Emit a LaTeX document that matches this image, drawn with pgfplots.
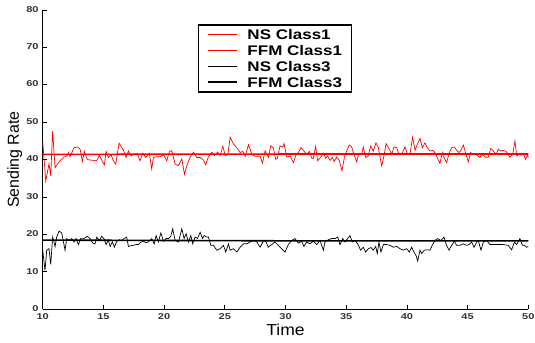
\documentclass[border=0pt]{standalone}
\usepackage{pgfplots}
\pgfplotsset{compat=1.18}
\usepackage{pgfplotstable}
\usepackage{graphicx}
\usepackage{fontspec}
\setmainfont{Liberation Sans}

\pgfplotstableread{
t v
10.00 45.0
10.25 34.3
10.52 38.9
10.66 35.7
10.82 47.6
11.02 37.9
11.43 39.7
11.70 40.6
11.98 41.0
12.12 41.9
12.25 40.8
12.58 43.2
12.86 43.4
13.08 42.8
13.27 39.5
13.43 42.2
13.68 40.0
13.93 39.9
14.18 39.8
14.45 39.7
14.67 41.2
14.92 39.5
15.08 38.6
15.22 42.2
15.41 40.6
15.63 41.3
15.82 39.7
16.02 38.8
16.29 44.4
16.65 42.5
16.87 40.6
17.06 42.3
17.28 41.0
17.47 41.5
17.80 41.5
18.02 39.7
18.24 41.7
18.49 40.6
18.79 41.7
18.98 37.5
19.12 40.6
19.40 40.8
19.67 40.8
19.95 41.3
20.22 39.7
20.44 42.2
20.63 42.4
20.91 38.8
21.18 38.4
21.46 40.2
21.68 36.1
21.87 38.4
22.14 40.6
22.42 42.0
22.69 40.6
22.97 40.6
23.24 39.9
23.43 38.6
23.65 40.8
23.93 42.0
24.15 41.1
24.40 42.0
24.62 41.1
24.84 43.6
25.03 41.1
25.25 41.3
25.44 46.0
25.71 44.2
25.99 43.2
26.26 41.9
26.48 42.2
26.68 40.9
26.95 44.0
27.23 41.4
27.50 40.9
27.91 40.9
28.10 39.1
28.32 42.4
28.60 40.6
28.78 43.7
29.00 43.2
29.19 40.1
29.33 40.3
29.55 43.7
29.77 43.4
29.88 44.3
30.10 40.7
30.37 41.0
30.65 39.2
30.87 41.4
31.06 41.9
31.28 43.2
31.52 42.3
31.74 41.4
31.96 42.2
32.16 40.4
32.29 40.3
32.48 43.5
32.65 39.7
32.90 40.6
33.12 41.7
33.31 40.4
33.47 41.0
33.67 39.8
33.86 40.6
34.02 39.5
34.21 40.7
34.43 39.8
34.65 37.0
34.85 40.6
35.04 42.3
35.26 43.9
35.45 43.4
35.64 41.4
35.86 39.4
36.05 41.7
36.27 41.4
36.41 43.4
36.60 40.6
36.82 41.0
37.02 43.7
37.23 42.3
37.45 44.5
37.65 43.2
37.92 38.3
38.11 41.0
38.28 44.3
38.55 42.8
38.74 41.4
38.94 43.4
39.16 43.2
39.35 41.4
39.57 41.4
39.84 43.4
40.05 41.4
40.25 41.4
40.47 46.0
40.67 42.5
40.86 44.1
41.08 45.7
41.27 43.2
41.49 44.5
41.68 43.2
41.90 42.3
42.12 42.5
42.31 41.9
42.52 40.4
42.72 39.0
42.92 41.9
43.08 40.4
43.27 39.2
43.49 41.9
43.69 43.2
43.91 43.4
44.10 42.5
44.29 41.9
44.45 42.5
44.65 43.9
44.87 41.4
45.06 39.4
45.25 41.9
45.47 41.4
45.66 41.6
45.83 41.0
46.02 40.6
46.16 41.4
46.35 41.0
46.51 40.6
46.71 40.7
46.90 43.0
47.12 42.3
47.34 41.4
47.53 42.8
47.75 42.3
47.94 42.5
48.16 42.2
48.35 41.4
48.49 40.6
48.71 41.4
48.90 45.0
49.04 41.0
49.23 41.4
49.40 41.2
49.59 41.6
49.78 40.1
49.95 41.4
50.00 40.5
}\nsone

\pgfplotstableread{
t v
10.00 15.8
10.19 10.4
10.33 15.8
10.52 16.2
10.66 12.0
10.82 19.3
11.02 16.8
11.15 19.3
11.35 20.9
11.57 20.4
11.84 15.8
11.98 18.9
12.17 18.4
12.39 18.9
12.58 18.0
12.75 18.9
12.94 17.3
13.13 18.9
13.31 18.8
13.49 19.1
13.68 19.5
13.90 18.9
14.12 17.7
14.31 17.5
14.45 19.3
14.67 18.4
14.86 19.5
15.05 18.9
15.22 17.3
15.41 18.5
15.55 16.8
15.74 18.0
15.91 16.6
16.10 18.2
16.32 18.6
16.51 18.4
16.70 18.9
16.92 19.3
17.06 16.8
17.27 17.0
17.47 17.1
17.68 17.3
17.88 17.3
18.09 18.0
18.30 18.2
18.50 17.8
18.71 18.0
18.98 18.9
19.18 17.5
19.34 19.7
19.53 18.0
19.73 20.4
19.95 18.2
20.16 18.9
20.36 18.9
20.55 19.5
20.71 21.5
20.91 18.4
21.18 18.0
21.46 21.5
21.65 18.9
21.81 20.2
22.01 18.0
22.20 19.7
22.36 17.5
22.55 19.3
22.75 18.9
22.97 20.6
23.16 18.9
23.30 19.7
23.52 19.3
23.65 19.3
23.85 17.1
24.07 17.1
24.34 15.8
24.62 16.2
24.89 17.1
25.08 15.3
25.30 17.5
25.44 15.8
25.71 16.2
25.99 15.3
26.26 16.6
26.54 17.5
26.81 17.5
27.09 18.0
27.36 18.4
27.64 18.0
27.91 16.6
28.19 18.4
28.40 18.0
28.58 16.6
28.86 17.3
29.13 18.0
29.41 17.1
29.68 16.2
29.96 15.3
30.23 17.3
30.51 18.4
30.78 18.9
31.06 17.7
31.33 18.2
31.52 16.8
31.74 18.0
32.02 17.5
32.29 18.2
32.57 17.3
32.84 18.4
33.12 15.8
33.25 18.0
33.53 18.6
33.80 18.9
34.08 18.9
34.30 19.3
34.49 17.3
34.71 18.9
34.90 18.0
35.12 18.9
35.31 19.7
35.50 18.0
35.72 18.4
35.94 17.5
36.19 15.8
36.41 16.6
36.60 15.3
36.82 16.2
37.04 16.5
37.23 15.8
37.43 16.8
37.56 14.9
37.70 18.0
37.86 15.3
38.06 17.3
38.33 17.3
38.61 17.1
38.88 16.6
39.16 16.8
39.43 16.2
39.70 15.8
39.98 16.2
40.20 15.3
40.39 16.6
40.58 15.3
40.75 14.4
40.89 12.9
41.08 15.8
41.22 14.9
41.43 15.8
41.71 15.9
41.90 15.8
42.09 17.1
42.31 18.4
42.53 18.9
42.81 18.4
43.05 19.3
43.27 17.1
43.47 15.8
43.69 17.1
43.91 18.2
44.10 17.1
44.37 17.1
44.65 17.5
44.92 17.1
45.11 17.3
45.33 18.0
45.53 16.6
45.75 18.0
45.88 18.4
46.10 15.8
46.30 18.0
46.57 18.4
46.84 17.3
47.12 17.3
47.53 17.3
47.94 17.3
48.35 17.1
48.63 15.9
48.85 18.0
49.04 17.3
49.31 18.9
49.51 17.1
49.67 17.1
49.86 16.6
50.00 16.8
}\nsthree

\pgfplotstableread{
t v
10 41.4
30 41.5
50 41.5
}\ffmone

\pgfplotstableread{
t v
10 18.5
30 18.3
50 18.3
}\ffmthree

\begin{document}
\begin{tikzpicture}
\useasboundingbox (0,0) rectangle (535bp,343bp);
\begin{axis}[
  at={(42.7bp,33.7bp)}, anchor=south west,
  width=485.6bp, height=299.3bp, scale only axis,
  xmin=10, xmax=50, ymin=0, ymax=80,
  axis lines=left, axis line style={-, line width=1bp, black},
  xtick={10,15,...,50}, ytick={0,10,...,80},
  tick align=inside, major tick length=4bp,
  tick style={line width=0.8bp, black},
  /pgf/number format/assume math mode=true,
  ticklabel style={font=\fontsize{8.5}{9}\selectfont\bfseries, text=black!80},
  xticklabel={\scalebox{1.3}[1]{\pgfmathprintnumber{\tick}}},
  yticklabel={\scalebox{1.3}[1]{\pgfmathprintnumber{\tick}}},
  xticklabel style={inner sep=1bp, yshift=-3bp},
  yticklabel style={inner sep=4bp, yshift=0.8bp},
  xlabel={\scalebox{1.1}[1]{Time}}, ylabel={Sending Rate},
  label style={font=\fontsize{16}{18}\selectfont},
  xlabel style={at={(axis description cs:0.5,-0.069)}, anchor=center},
  ylabel style={at={(axis description cs:-0.0577,0.5)}, anchor=center},
  legend image code/.code={\draw[#1] (0bp,0bp) -- (29bp,0bp);},
  legend cell align=left,
  legend style={at={(axis description cs:0.3204,0.9522)}, anchor=north west,
    draw=black, line width=1.2bp, fill=white,
    font=\fontsize{14}{14}\selectfont\bfseries,
    inner xsep=8.5bp, inner ysep=3.4bp, row sep=3.4bp, column sep=8.5bp,
    nodes={inner sep=1bp, text height=10.5bp, text depth=0bp}},
]
\addplot[red, line width=0.7bp] table[x=t,y=v] {\nsone};
\addlegendentry{\scalebox{1.22}[1]{NS Class1}}
\addplot[red, line width=1.6bp] table[x=t,y=v] {\ffmone};
\addlegendentry{\scalebox{1.22}[1]{FFM Class1}}
\addplot[black, line width=0.7bp] table[x=t,y=v] {\nsthree};
\addlegendentry{\scalebox{1.22}[1]{NS Class3}}
\addplot[black, line width=1.6bp] table[x=t,y=v] {\ffmthree};
\addlegendentry{\scalebox{1.22}[1]{FFM Class3}}
\end{axis}
\end{tikzpicture}
\end{document}
